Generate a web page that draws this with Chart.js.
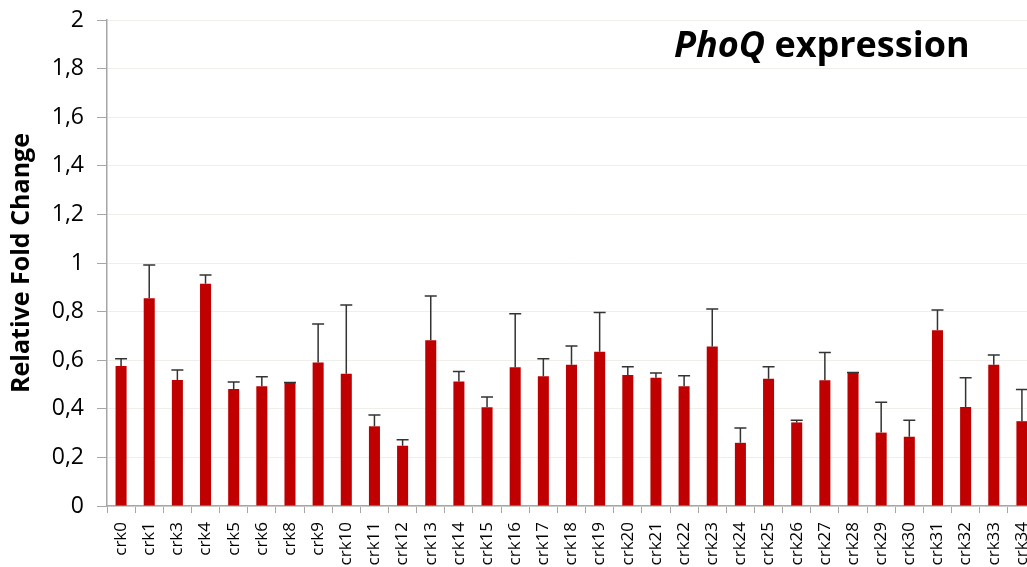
<!DOCTYPE html>
<html>
<head>
<meta charset="utf-8">
<script src="https://cdn.jsdelivr.net/npm/chart.js@4/dist/chart.umd.min.js"></script>
<style>
  html, body { margin: 0; padding: 0; background: #fff; overflow: hidden; }
  #wrap { width: 1038px; height: 567px; }
</style>
</head>
<body>
<div id="wrap"><canvas id="chart"></canvas></div>
<script>
// data
const samples = ['crk0','crk1','crk3','crk4','crk5','crk6','crk8','crk9','crk10','crk11','crk12',
  'crk13','crk14','crk15','crk16','crk17','crk18','crk19','crk20','crk21','crk22','crk23',
  'crk24','crk25','crk26','crk27','crk28','crk29','crk30','crk31','crk32','crk33','crk34'];
const foldChange = [0.576,0.855,0.519,0.915,0.481,0.493,0.506,0.591,0.544,0.328,0.248,
  0.682,0.512,0.406,0.571,0.534,0.581,0.635,0.539,0.528,0.493,0.656,
  0.260,0.524,0.344,0.517,0.547,0.302,0.285,0.723,0.407,0.581,0.349];
const errorTop = [0.606,0.992,0.560,0.951,0.510,0.532,0.508,0.749,0.827,0.374,0.273,
  0.864,0.553,0.449,0.791,0.606,0.658,0.796,0.573,0.547,0.536,0.811,
  0.321,0.573,0.353,0.632,0.549,0.427,0.353,0.807,0.528,0.621,0.479];

const FONT = '"Open Sans", sans-serif';

// draws the upper error bars
const errorBars = {
  id: 'errorBars',
  afterDatasetsDraw(chart) {
    const ctx = chart.ctx;
    const y = chart.scales.y;
    const meta = chart.getDatasetMeta(0);
    ctx.save();
    ctx.strokeStyle = '#333';
    ctx.lineWidth = 1.5;
    meta.data.forEach((bar, i) => {
      const top = y.getPixelForValue(errorTop[i]);
      ctx.beginPath();
      ctx.moveTo(bar.x, bar.y);
      ctx.lineTo(bar.x, top);
      ctx.moveTo(bar.x - 6, top);
      ctx.lineTo(bar.x + 6, top);
      ctx.stroke();
    });
    ctx.restore();
  }
};

// title sits inside the plot, top right
const titleText = {
  id: 'titleText',
  afterDraw(chart) {
    const ctx = chart.ctx;
    ctx.save();
    ctx.fillStyle = '#000';
    ctx.textBaseline = 'alphabetic';
    let x = 674, yy = 57;
    ctx.font = 'italic bold 36px ' + FONT;
    ctx.fillText('PhoQ', x, yy);
    x += ctx.measureText('PhoQ ').width;
    ctx.font = 'bold 36px ' + FONT;
    ctx.fillText('expression', x, yy);
    ctx.restore();
  }
};

new Chart(document.getElementById('chart'), {
  type: 'bar',
  data: {
    labels: samples,
    datasets: [{
      data: foldChange,
      backgroundColor: '#c00000',
      borderWidth: 0,
      barPercentage: 0.8,
      categoryPercentage: 0.49
    }]
  },
  options: {
    responsive: true,
    maintainAspectRatio: false,
    animation: false,
    layout: { padding: { top: 20, right: 2, left: 0, bottom: 0 } },
    plugins: { legend: { display: false }, tooltip: { enabled: false } },
    scales: {
      x: {
        grid: { drawOnChartArea: false, color: '#a6a6a6', tickLength: 7, offset: true },
        border: { color: '#a6a6a6', width: 1.5 },
        ticks: {
          color: '#000',
          font: { family: FONT, size: 17 },
          minRotation: 90, maxRotation: 90,
          padding: 9,
          autoSkip: false
        },
        afterFit(scale) {
          scale.height = 61;
          scale.paddingLeft = 0;
          scale.paddingRight = 0;
        }
      },
      y: {
        min: 0, max: 2,
        grid: { color: '#efefe9', tickColor: '#a6a6a6', tickLength: 10 },
        border: { color: '#a6a6a6', width: 1.5 },
        ticks: {
          stepSize: 0.2,
          color: '#000',
          font: { family: FONT, size: 23 },
          padding: 13,
          callback: v => String(Math.round(v * 10) / 10).replace('.', ',')
        },
        title: {
          display: true,
          text: 'Relative Fold Change',
          color: '#000',
          font: { family: FONT, size: 25, weight: 'bold' },
          padding: { top: 7, bottom: 0 }
        },
        afterFit(scale) {
          scale.width = 107;
          scale.paddingTop = 0;
          scale.paddingBottom = 0;
        }
      }
    }
  },
  plugins: [errorBars, titleText]
});
</script>
</body>
</html>
